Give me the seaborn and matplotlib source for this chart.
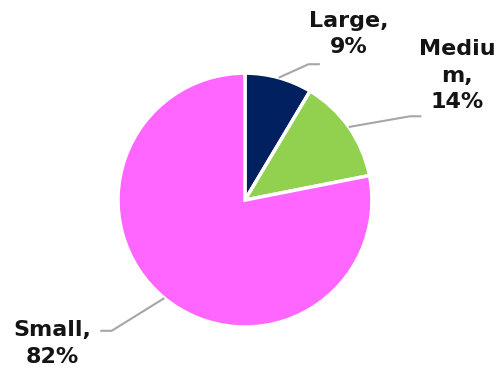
import numpy as np
import matplotlib
matplotlib.use("Agg")
import matplotlib.pyplot as plt
import seaborn as sns

# Share of firms by size class
categories = ["Large", "Medium", "Small"]
values = [9, 14, 82]
label_texts = ["Large,\n9%", "Mediu\nm,\n14%", "Small,\n82%"]
colors = ["#002060", "#92D050", "#FF66FF"]

sns.set_theme(style="white")
plt.rcParams["font.family"] = ["DejaVu Sans"]

fig = plt.figure(figsize=(5.02, 3.75), dpi=100)
ax = fig.add_axes([0.235, 0.128, 0.506, 0.677])

wedges, _ = ax.pie(values, colors=colors, startangle=90, counterclock=False,
                   radius=1.0,
                   wedgeprops=dict(edgecolor="white", linewidth=2.5))
ax.set_xlim(-1, 1)
ax.set_ylim(-1, 1)
ax.set_aspect("equal")
ax.axis("off")

# label placement: (elbow point, line end, text centre) in axes data units
layout = [
    ((0.50, 1.07), (0.59, 1.07), (0.82, 1.31)),
    ((1.30, 0.66), (1.39, 0.66), (1.67, 0.98)),
    ((-1.05, -1.03), (-1.14, -1.03), (-1.52, -1.13)),
]

for w, txt, (elbow, end, pos) in zip(wedges, label_texts, layout):
    mid = np.deg2rad((w.theta1 + w.theta2) / 2)
    start = (np.cos(mid), np.sin(mid))
    ax.plot([start[0], elbow[0], end[0]], [start[1], elbow[1], end[1]],
            color="#A6A6A6", lw=1.5, clip_on=False, solid_capstyle="butt")
    ax.text(pos[0], pos[1], txt, ha="center", va="center", multialignment="center",
            fontsize=16, fontweight="bold", color="#141414", linespacing=1.4,
            clip_on=False)

fig.savefig("out.png", dpi=100)
